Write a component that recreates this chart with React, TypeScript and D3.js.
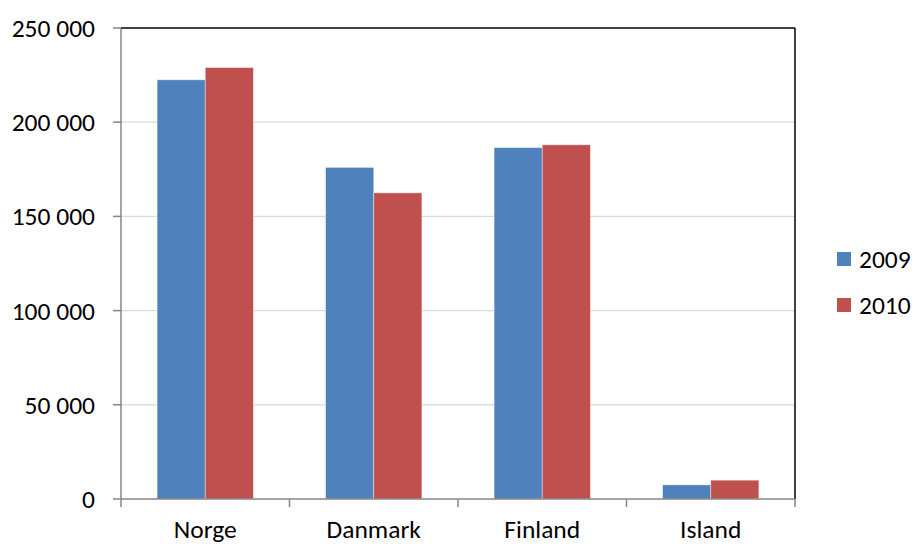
import React from "react";
import * as d3 from "d3";

const categories = ["Norge", "Danmark", "Finland", "Island"];
const seriesNames = ["2009", "2010"];
const values2009 = [222500, 176000, 186500, 7500];
const values2010 = [229000, 162500, 188000, 10000];
const yTicks = [0, 50000, 100000, 150000, 200000, 250000];
const colors = ["#4F81BD", "#C0504D"];

const W = 914;
const H = 546;
const margin = { left: 121, right: 119, top: 28, bottom: 47 };
const FONT = "Carlito, Calibri, 'Open Sans', Lato, sans-serif";
const FS = 25.5;

export default function App() {
  const x0 = margin.left;
  const x1 = W - margin.right;
  const y0 = H - margin.bottom;
  const y1 = margin.top;

  const x = d3.scaleBand<string>().domain(categories).range([x0, x1]).padding(0);
  const inner = d3
    .scaleBand<string>()
    .domain(seriesNames)
    .range([0, x.bandwidth()])
    .paddingOuter(0.75)
    .paddingInner(0);
  const y = d3.scaleLinear().domain([0, 250000]).range([y0, y1]);
  const fmt = (v: number) => d3.format(",")(v).replace(/,/g, " ");
  const series = [values2009, values2010];

  return (
    <svg width={W} height={H} style={{ display: "block", position: "absolute", left: 0, top: 0 }}>
      <rect x={0} y={0} width={W} height={H} fill="#fff" />
      {yTicks.filter((t) => t > 0 && t < 250000).map((t) => (
        <line key={t} x1={x0} x2={x1} y1={y(t)} y2={y(t)} stroke="#d9d9d9" strokeWidth={1.3} />
      ))}
      {categories.map((c, i) =>
        series.map((vals, s) => (
          <rect
            key={c + s}
            x={(x(c) as number) + (inner(seriesNames[s]) as number)}
            y={y(vals[i])}
            width={inner.bandwidth()}
            height={y0 - y(vals[i])}
            fill={colors[s]}
            stroke="rgba(255,255,255,0.5)"
            strokeWidth={0.8}
          />
        ))
      )}
      <line x1={x0} x2={x1} y1={y1} y2={y1} stroke="#000" strokeWidth={1.5} />
      <line x1={x1} x2={x1} y1={y1} y2={y0} stroke="#000" strokeWidth={1.5} />
      <line x1={x0} x2={x0} y1={y1} y2={y0} stroke="#868686" strokeWidth={1.5} />
      {yTicks.map((t) => (
        <g key={t}>
          <line x1={x0 - 8} x2={x0} y1={y(t)} y2={y(t)} stroke="#868686" strokeWidth={1.5} />
          <text
            x={95}
            y={y(t)}
            dy="0.35em"
            textAnchor="end"
            fontFamily={FONT}
            fontSize={FS}
            fill="#000"
          >
            {fmt(t)}
          </text>
        </g>
      ))}
      <line x1={x0} x2={x1} y1={y0} y2={y0} stroke="#868686" strokeWidth={1.5} />
      {[...categories.map((c) => x(c) as number), x1].map((px, i) => (
        <line key={i} x1={px} x2={px} y1={y0} y2={y0 + 8} stroke="#868686" strokeWidth={1.5} />
      ))}
      {categories.map((c) => (
        <text
          key={c}
          x={(x(c) as number) + x.bandwidth() / 2}
          y={538}
          textAnchor="middle"
          fontFamily={FONT}
          fontSize={FS}
          fill="#000"
        >
          {c}
        </text>
      ))}
      {seriesNames.map((s, i) => (
        <g key={s} transform={`translate(837, ${252 + i * 46})`}>
          <rect x={0} y={0} width={14} height={14} fill={colors[i]} />
          <text x={22} y={7} dy="0.35em" fontFamily={FONT} fontSize={FS} fill="#000">
            {s}
          </text>
        </g>
      ))}
    </svg>
  );
}
